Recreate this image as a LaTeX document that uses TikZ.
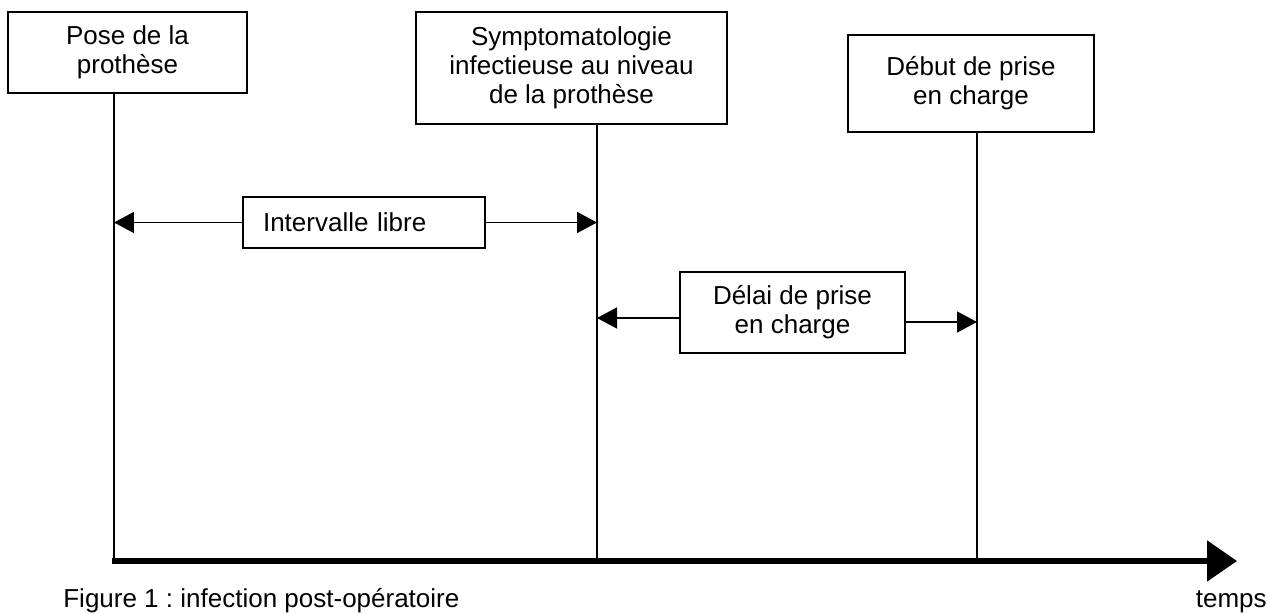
\documentclass[tikz,border=0pt]{standalone}
\usepackage{fontspec}
\setmainfont{Liberation Sans}
\usepackage{tikz}
\usetikzlibrary{positioning,arrows.meta}
\frenchspacing

\begin{document}
\begin{tikzpicture}[
        x=0.02cm, y=-0.02cm,
        font=\fontsize{14.8}{16.5}\selectfont,
        event/.style={rectangle, draw, line width=0.85pt, align=center},
        period/.style={rectangle, draw, line width=0.85pt},
        arrow/.style={-{Triangle[length=0.4cm, width=0.42cm]}, line width=0.85pt},
        timeaxis/.style={-{Triangle[length=0.6cm, width=0.8cm]}, line width=0.11cm}
    ]
        \useasboundingbox (0,0) rectangle (1268,614);
        
        \node[event, minimum width=4.78cm, minimum height=1.62cm] (pose) at (127.5,52.5) {Pose de la\\prothèse};
        \node[event, minimum width=6.22cm, minimum height=2.24cm] (sympto) at (571.5,68) {Symptomatologie\\infectieuse au niveau\\de la prothèse};
        \node[event, minimum width=4.92cm, minimum height=1.94cm, text depth=0.12cm] (debut) at (971,83.5) {Début de prise\\en charge};
        
        \coordinate (origin) at (112,561);
        \coordinate (t1) at (114,561);
        \coordinate (t2) at (597,561);
        \coordinate (t3) at (977,561);
        \coordinate (end) at (1237,561);
        
        \draw[line width=0.85pt] (pose.south -| t1) -- (t1);
        \draw[line width=0.85pt] (sympto.south -| t2) -- (t2);
        \draw[line width=0.85pt] (debut.south -| t3) -- (t3);
        \draw[timeaxis] (origin) -- (end);
        
        \node[period, text width=4.04cm, inner xsep=0.4cm, align=left, minimum height=1.02cm] (libre) at (364,222.5) {Intervalle libre};
        \node[period, align=center, minimum width=4.5cm, minimum height=1.62cm] (delai) at (792.5,312.5) {Délai de prise\\en charge};
        
        \draw[arrow] (libre.west) -- (libre.west -| t1);
        \draw[arrow] (libre.east) -- (libre.east -| t2);
        \draw[arrow] ([yshift=-0.11cm]delai.west) -- ([yshift=-0.11cm]delai.west -| t2);
        \draw[arrow] ([yshift=-0.19cm]delai.east) -- ([yshift=-0.19cm]delai.east -| t3);
        
        \node[anchor=base west, inner sep=0pt] (caption) at (63,607) {Figure 1 : infection post-opératoire};
        \node[anchor=base east, inner sep=0pt] (temps) at (1267,607) {temps};
    \end{tikzpicture}
\end{document}
